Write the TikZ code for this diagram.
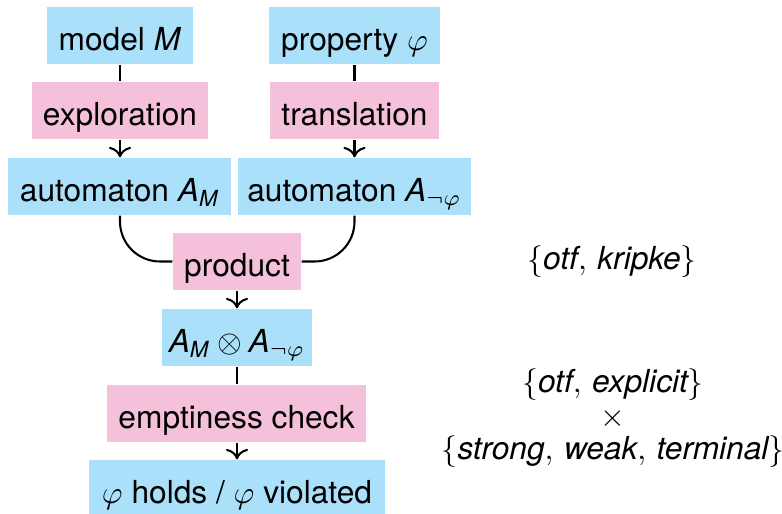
\documentclass[tikz,border=0pt]{standalone}
\usepackage{amsmath}
\usepackage{fontspec}
\setmainfont{TeX Gyre Heros}
\usetikzlibrary{arrows.meta,calc}
\definecolor{boxblue}{RGB}{170,224,249}
\definecolor{boxpink}{RGB}{245,192,217}
\newcommand{\iA}{\textit{A}}
\newcommand{\iM}{\textit{M}}
\begin{document}
\begin{tikzpicture}[x=0.3155pt,y=-0.3155pt,
  every node/.style={font=\fontsize{10}{12}\selectfont, inner sep=0pt},
  bw/.style={minimum width=#1*0.3155pt},
  box/.style={text height=13.6pt, text depth=4.4pt},
  bluebox/.style={box, fill=boxblue},
  pinkbox/.style={box, fill=boxpink},
  conn/.style={line width=0.65pt},
  arr/.style={line width=0.65pt, -{To[length=3.3pt,width=7pt,line width=0.65pt]}},
  note/.style={align=center}]
\useasboundingbox (0,0) rectangle (782,514);
\node[bluebox, bw=146] (model) at (120,35.5) {model \iM};
\node[bluebox, bw=171] (prop) at (354.5,35.5) {property $\varphi$};
\node[pinkbox, bw=176] (expl) at (120,110.5) {exploration};
\node[pinkbox, bw=169] (trans) at (354.5,110.5) {translation};
\node[bluebox, bw=223] (autM) at (119.5,186.5) {automaton $\iA_{\iM}$};
\node[bluebox, bw=233] (autP) at (354.5,186.5) {automaton $\iA_{\neg\varphi}$};
\node[pinkbox, bw=128] (prod) at (237,261.5) {product};
\node[bluebox, bw=150] (prodA) at (237,337.5) {$\iA_{\iM}\otimes\iA_{\neg\varphi}$};
\node[pinkbox, bw=259] (empty) at (236.5,413.5) {emptiness check};
\node[bluebox, bw=296] (res) at (237,488.5) {$\varphi$ holds / $\varphi$ violated};

\node[note] (n1) at (612,262) {$\{\textit{otf},\,\textit{kripke}\}$};
\node[note] (n2) at (613,385) {$\{\textit{otf},\,\textit{explicit}\}$};
\node[note] (n3) at (613,419) {$\times$};
\node[note] (n4) at (613,452) {$\{\textit{strong},\,\textit{weak},\,\textit{terminal}\}$};

\draw[conn] (model.south -| expl.north) -- (expl.north);
\draw[conn] (prop.south -| trans.north) -- (trans.north);
\draw[arr] (expl.south) -- (expl.south |- autM.north);
\draw[arr] (trans.south) -- (trans.south |- autP.north);
\draw[conn, rounded corners=12.6pt] (expl.south |- autM.south) |- (prod.west);
\draw[conn, rounded corners=12.6pt] (trans.south |- autP.south) |- (prod.east);
\draw[arr] (prod.south) -- (prodA.north);
\draw[conn] (prodA.south) -- (prodA.south |- empty.north);
\draw[arr] (empty.south -| prodA.south) -- (prodA.south |- res.north);
\end{tikzpicture}
\end{document}
